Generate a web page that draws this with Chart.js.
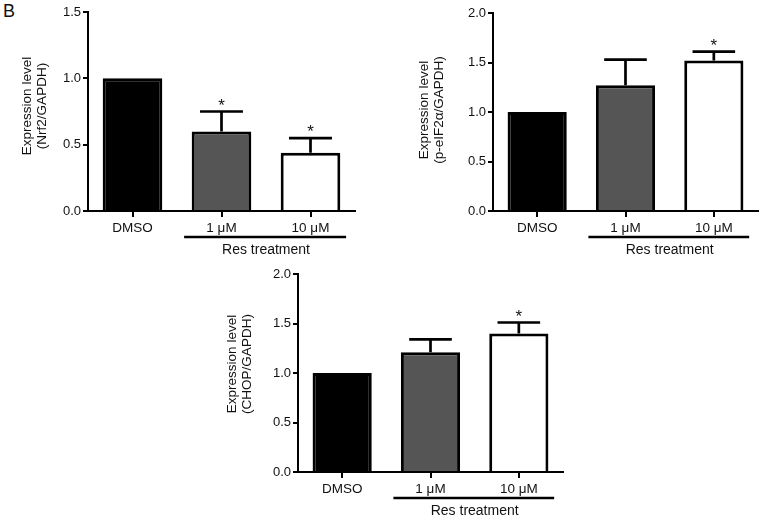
<!DOCTYPE html>
<html>
<head>
<meta charset="utf-8">
<script src="https://cdn.jsdelivr.net/npm/chart.js@4.4.0/dist/chart.umd.min.js"></script>
<style>
  body { margin: 0; background: #fff; width: 765px; height: 521px; position: relative; overflow: hidden; font-family: "Liberation Sans", Arial, sans-serif; }
  .box { position: absolute; }
  #panel { position: absolute; left: 3px; top: 1px; font-size: 18px; color: #111; }
</style>
</head>
<body>
<div id="panel">B</div>
<div class="box" style="left:0px;top:0px;width:380px;height:260px"><canvas id="nrf2"></canvas></div>
<div class="box" style="left:397px;top:0px;width:368px;height:260px"><canvas id="peif"></canvas></div>
<div class="box" style="left:205px;top:262px;width:380px;height:259px"><canvas id="chop"></canvas></div>
<script>
const categories = ["DMSO", "1 \u03bcM", "10 \u03bcM"];
const barColors = ["#000000", "#555555", "#ffffff"];

const nrf2Values = [1.0, 0.60, 0.44];
const nrf2Errors = [0, 0.15, 0.11];
const nrf2Stars = [false, true, true];

const peifValues = [1.0, 1.27, 1.52];
const peifErrors = [0, 0.26, 0.09];
const peifStars = [false, false, true];

const chopValues = [1.0, 1.21, 1.40];
const chopErrors = [0, 0.13, 0.11];
const chopStars = [false, false, true];

const groupLabel = "Res treatment";
const FONT = "'Liberation Sans', Arial, sans-serif";

// error bars, stars, bracket, y title
function extrasPlugin(errors, stars, title, titleY) {
  return {
    id: "extras",
    afterDatasetsDraw(chart) {
      const ctx = chart.ctx;
      const y = chart.scales.y;
      const x = chart.scales.x;
      const vals = chart.data.datasets[0].data;
      const bars = chart.getDatasetMeta(0).data;
      ctx.save();
      ctx.strokeStyle = "#000";
      ctx.fillStyle = "#111";
      ctx.lineWidth = 2.7;
      bars.forEach(function (bar, i) {
        if (errors[i] > 0) {
          const yb = y.getPixelForValue(vals[i]);
          const yt = y.getPixelForValue(vals[i] + errors[i]);
          const hw = bar.width * 0.36;
          ctx.beginPath();
          ctx.moveTo(bar.x, yb);
          ctx.lineTo(bar.x, yt);
          ctx.moveTo(bar.x - hw, yt);
          ctx.lineTo(bar.x + hw, yt);
          ctx.stroke();
          if (stars[i]) {
            ctx.font = "17px " + FONT;
            ctx.textAlign = "center";
            ctx.textBaseline = "alphabetic";
            ctx.fillText("*", bar.x, yt - 1);
          }
        }
      });
      // bracket under the treated groups
      const c1 = x.getPixelForValue(1);
      const c2 = x.getPixelForValue(2);
      const step = c2 - c1;
      const by = chart.chartArea.bottom + 26;
      ctx.lineWidth = 2.7;
      ctx.beginPath();
      ctx.moveTo(c1 - step * 0.42, by);
      ctx.lineTo(c2 + step * 0.4, by);
      ctx.stroke();
      ctx.font = "14px " + FONT;
      ctx.textAlign = "center";
      ctx.textBaseline = "middle";
      ctx.fillText(groupLabel, (c1 + c2) / 2, chart.chartArea.bottom + 39);
      // y axis title, two lines rotated
      ctx.font = "13.5px " + FONT;
      ctx.translate(y.left + 7.5, titleY);
      ctx.rotate(-Math.PI / 2);
      ctx.fillText(title[0], 0, 0);
      ctx.fillText(title[1], 0, 15);
      ctx.restore();
    }
  };
}

function makeChart(id, values, errors, stars, yMax, title, pad, yWidth, titleY) {
  const ctx = document.getElementById(id).getContext("2d");
  return new Chart(ctx, {
    type: "bar",
    data: {
      labels: categories,
      datasets: [{
        data: values,
        backgroundColor: barColors,
        borderColor: "#000",
        borderWidth: 3,
        categoryPercentage: 1,
        barPercentage: 0.67
      }]
    },
    options: {
      responsive: true,
      maintainAspectRatio: false,
      animation: false,
      layout: { padding: pad },
      plugins: { legend: { display: false }, tooltip: { enabled: false } },
      scales: {
        x: {
          grid: { display: true, drawOnChartArea: false, offset: false, tickLength: 6, lineWidth: 2, color: "#000" },
          border: { display: true, color: "#000", width: 2 },
          ticks: { color: "#111", font: { family: FONT, size: 13.5 }, padding: 3, maxRotation: 0 },
          afterFit: function (s) { s.height = 49; }
        },
        y: {
          min: 0,
          max: yMax,
          grid: { display: true, drawOnChartArea: false, tickLength: 5, lineWidth: 2, color: "#000" },
          border: { display: true, color: "#000", width: 2 },
          ticks: {
            stepSize: 0.5,
            color: "#111",
            font: { family: FONT, size: 13 },
            padding: 2,
            callback: function (v) { return Number(v).toFixed(1); }
          },
          afterFit: function (s) { s.width = yWidth; }
        }
      }
    },
    plugins: [extrasPlugin(errors, stars, title, titleY)]
  });
}

makeChart("nrf2", nrf2Values, nrf2Errors, nrf2Stars, 1.5,
  ["Expression level", "(Nrf2/GAPDH)"],
  { left: 20, right: 25, top: 12, bottom: 0 }, 68, 106);
makeChart("peif", peifValues, peifErrors, peifStars, 2.0,
  ["Expression level", "(p-eIF2\u03b1/GAPDH)"],
  { left: 20, right: 7, top: 13, bottom: 0 }, 76, 110);
makeChart("chop", chopValues, chopErrors, chopStars, 2.0,
  ["Expression level", "(CHOP/GAPDH)"],
  { left: 20, right: 22, top: 12, bottom: 0 }, 73, 102);
</script>
</body>
</html>
